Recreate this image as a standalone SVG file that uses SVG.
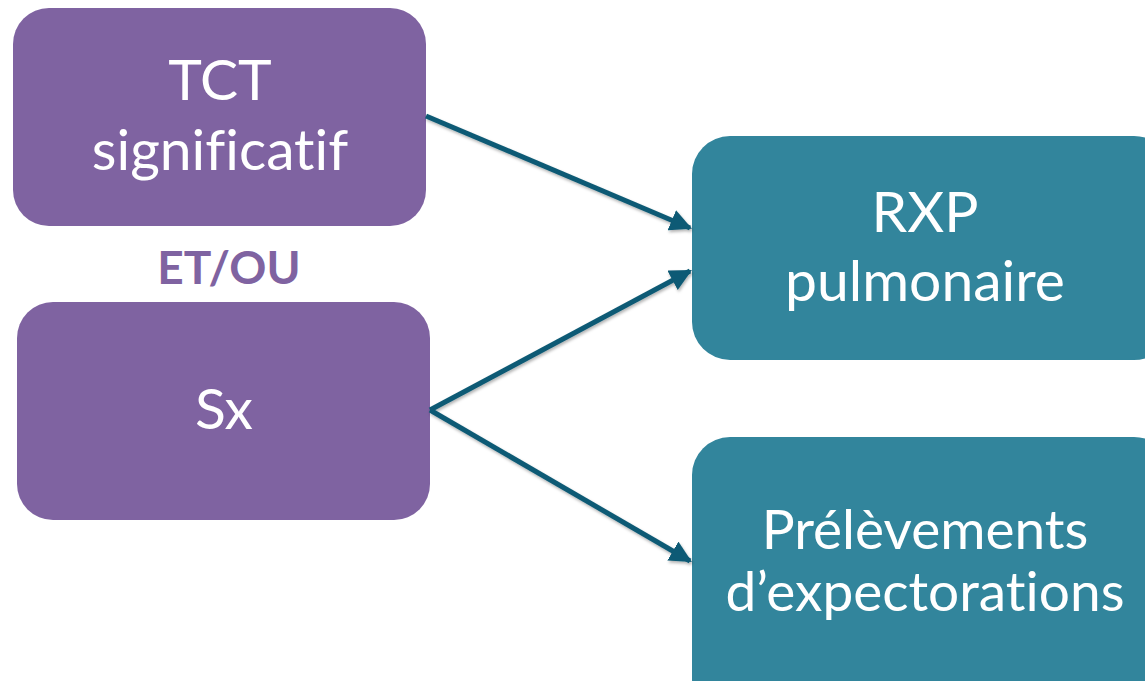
<svg xmlns="http://www.w3.org/2000/svg" width="1145" height="681" viewBox="0 0 1145 681">
<defs>
<style>
.p{fill:#7F63A1}
.t{fill:#32859C}
text{font-variant-ligatures:none;font-feature-settings:"liga" 0}
.lbl{font-family:Lato,"Open Sans",sans-serif;font-size:57px;fill:#fff;text-anchor:middle}
.lbl.sm{font-size:55px}
.conn line{stroke:#0E5A74;stroke-width:5;marker-end:url(#ah)}
</style>
<marker id="ah" viewBox="0 0 10 10" refX="9" refY="5" markerWidth="4.4" markerHeight="4.4" orient="auto" markerUnits="strokeWidth">
<path d="M0,0 L10,5 L0,10 z" fill="#0E5A74"/>
</marker>
<filter id="sh" x="-10%" y="-10%" width="120%" height="130%">
<feDropShadow dx="1" dy="2" stdDeviation="1.5" flood-color="#000" flood-opacity="0.3"/>
</filter>
</defs>
<rect width="1145" height="681" fill="#fff"/>
<g id="tct">
<rect class="p" x="13" y="8" width="413" height="218" rx="36"/>
<text class="lbl" x="220" y="100">TCT</text>
<text class="lbl" x="220" y="170">significatif</text>
</g>
<g id="etou">
<text x="229" y="284" font-family="Lato,'Open Sans',sans-serif" font-weight="bold" font-size="46" fill="#7F63A1" text-anchor="middle">ET/OU</text>
</g>
<g id="sx">
<rect class="p" x="17" y="302" width="413" height="218" rx="36"/>
<text class="lbl" x="224" y="429">Sx</text>
</g>
<g id="rxp">
<rect class="t" x="692" y="136" width="480" height="224" rx="38"/>
<text class="lbl" x="925" y="232">RXP</text>
<text class="lbl" x="925" y="301">pulmonaire</text>
</g>
<g id="prel">
<rect class="t" x="692" y="437" width="480" height="280" rx="38"/>
<text class="lbl sm" x="925" y="549">Prélèvements</text>
<text class="lbl sm" x="925" y="611">d’expectorations</text>
</g>
<g id="connectors" class="conn" filter="url(#sh)">
<line x1="426" y1="116" x2="690" y2="228"/>
<line x1="430" y1="410" x2="690" y2="271"/>
<line x1="430" y1="410" x2="690" y2="561"/>
</g>
</svg>
